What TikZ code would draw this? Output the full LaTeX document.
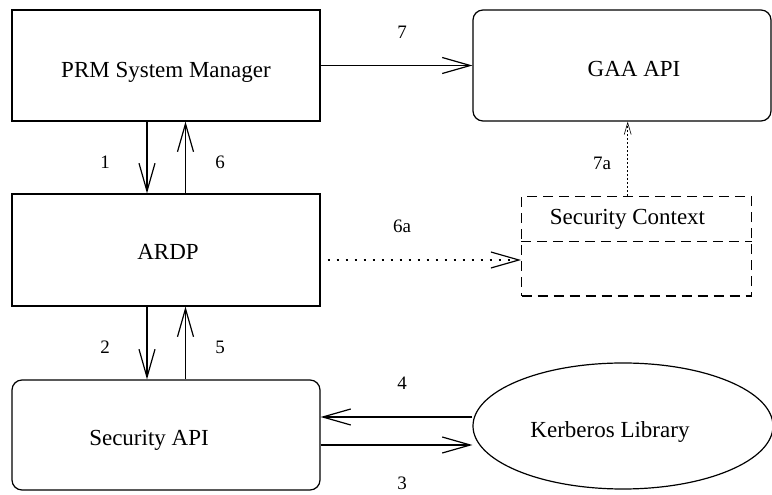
\documentclass[tikz,border=0pt]{standalone}
\usepackage{fontspec}
\setmainfont{Liberation Serif}
\usetikzlibrary{arrows.meta,shapes.geometric}

\begin{document}
\begin{tikzpicture}[x=1pt,y=1pt,line width=1.2pt,
    box/.style={draw,minimum width=308pt,minimum height=111pt},
    rbox/.style={box,rounded corners=10pt},
    txt/.style={font=\fontsize{23}{27}\selectfont},
    lbl/.style={font=\fontsize{19}{23}\selectfont},
    barb/.style={-{Straight Barb[length=28pt,width=16pt]}},
    smallbarb/.style={-{Straight Barb[length=12pt,width=7pt]}},
    ]
    \useasboundingbox (0,0) rectangle (772,495);
    \node[box] (prm) at (166,429.5) {};
    \node[rbox,minimum width=298pt] (gaa) at (622,429.5) {};
    \node[box,minimum height=112pt] (ardp) at (166,245) {};
    \node[rbox,minimum height=110pt] (secapi) at (166,60) {};
    \node[draw,ellipse,minimum width=300pt,minimum height=126pt] (kerb) at (623,69) {};
    \node[txt] (prmtxt) at ([shift={(0,-6.5)}]prm.center) {PRM System Manager};
    \node[txt] (gaatxt) at ([shift={(12,-4)}]gaa.center) {GAA API};
    \node[txt] (ardptxt) at ([shift={(2,-2)}]ardp.center) {ARDP};
    \node[txt] (secapitxt) at ([shift={(-17,-5.5)}]secapi.center) {Security API};
    \node[txt] (kerbtxt) at ([shift={(-13,-6.5)}]kerb.center) {Kerberos Library};
    % security context
    \node[draw,dash pattern=on 10pt off 6pt,minimum width=230pt,minimum height=99.5pt] (ctx) at (636.7,248.7) {};
    \node[txt] (ctxtxt) at (627.5,276) {Security Context};
    \draw[dash pattern=on 10pt off 6pt] (ctx.west |- 0,253.3) -- (ctx.east |- 0,253.3);
    % calls
    \draw[barb] ([xshift=-19pt]prm.south) -- ([xshift=-19pt]ardp.north);
    \draw[barb] ([xshift=19.5pt]ardp.north) -- ([xshift=19.5pt]prm.south);
    \draw[barb] ([xshift=-19pt]ardp.south) -- ([xshift=-19pt]secapi.north);
    \draw[barb] ([xshift=19.5pt]secapi.north) -- ([xshift=19.5pt]ardp.south);
    \draw[barb] (prm.east) -- (gaa.west);
    \draw[barb] ([yshift=-19pt]secapi.east |- kerb.west) -- ([yshift=-19pt]kerb.west);
    \draw[barb] ([yshift=9pt]kerb.west) -- ([yshift=9pt]secapi.east |- kerb.west);
    \draw[barb,dash pattern=on 2.5pt off 6.5pt] ([yshift=-10pt,xshift=7pt]ardp.east) -- ([yshift=-13.7pt]ctx.west);
    \draw[smallbarb,line width=0.6pt,dash pattern=on 1.5pt off 2.5pt] ([xshift=-9pt]ctx.north) -- ([xshift=5.7pt]gaa.south);
    % numbers
    \foreach \n/\x/\y in {1/105/333,6/220/333,2/105/148,5/220/148,7/402/463,
        7a/602/332,6a/402/269,4/402/112,3/402/12}
        \node[lbl] (l\n) at (\x,\y) {\n};
\end{tikzpicture}
\end{document}
